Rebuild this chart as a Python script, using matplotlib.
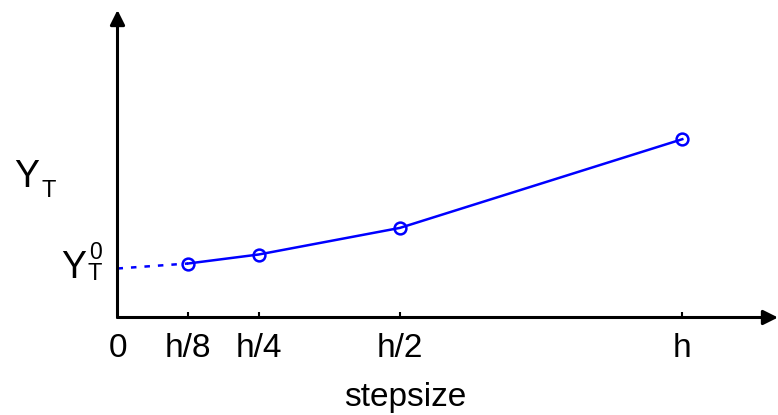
import matplotlib
matplotlib.use("Agg")
import matplotlib.pyplot as plt

plt.rcParams['font.family'] = ['Liberation Sans', 'DejaVu Sans']

# data (x in units of h, y arbitrary units)
step_x = [1/8, 1/4, 1/2, 1.0]
step_labels = ["0", "h/8", "h/4", "h/2", "h"]
y_vals = [54, 63, 89.6, 178.3]
y0 = 49

W, H = 778, 415
fig = plt.figure(figsize=(W/100, H/100), dpi=100)
x0px, y0px = 117.5, 317.5
hpx = 682.3 - x0px
ax = fig.add_axes([x0px/W, (H-y0px)/H, (W-x0px)/W, (y0px-10)/H])
ax.set_xlim(0, (W-x0px)/hpx)
ax.set_ylim(0, y0px-10)
for s in ax.spines.values():
    s.set_visible(False)

blue = '#0000ff'
ax.plot([0, step_x[0]], [y0, y_vals[0]], color=blue, lw=1.8, ls=(0, (2.2, 3.2)), clip_on=False)
ax.plot(step_x, y_vals, color=blue, lw=1.8, marker='o', ms=8.5, mfc='none', mec=blue, mew=1.8, clip_on=False)

# axes arrows
ax.annotate('', xy=(1, 0), xytext=(0, 0), xycoords='axes fraction',
            arrowprops=dict(arrowstyle='-|>', lw=2.2, color='k', mutation_scale=22, shrinkA=0, shrinkB=0))
ax.annotate('', xy=(0, 1), xytext=(0, 0), xycoords='axes fraction',
            arrowprops=dict(arrowstyle='-|>', lw=2.2, color='k', mutation_scale=22, shrinkA=0, shrinkB=0))

ax.set_xticks([0] + step_x)
ax.set_xticklabels(step_labels, fontsize=24)
ax.tick_params(axis='x', direction='in', length=4, width=1.5, pad=11)
ax.get_xticklines()[0].set_visible(False)
ax.set_yticks([])

ax.set_xlabel("stepsize", fontsize=24)
ax.xaxis.set_label_coords((405 - x0px)/(W - x0px), -(397 - y0px)/(y0px - 10), transform=ax.transAxes)
ax.xaxis.label.set_va('center')

def ftxt(x, y, s, size):
    fig.text(x/W, 1-y/H, s, fontsize=size, ha='left', va='baseline')

# Y_T label
ftxt(14, 187, "Y", 27)
ftxt(41, 197, "T", 17)
# Y_T^0 label
ftxt(61, 278, "Y", 27)
ftxt(89, 259, "0", 16.5)
ftxt(87, 280, "T", 17)

fig.savefig("out.png", dpi=100)
